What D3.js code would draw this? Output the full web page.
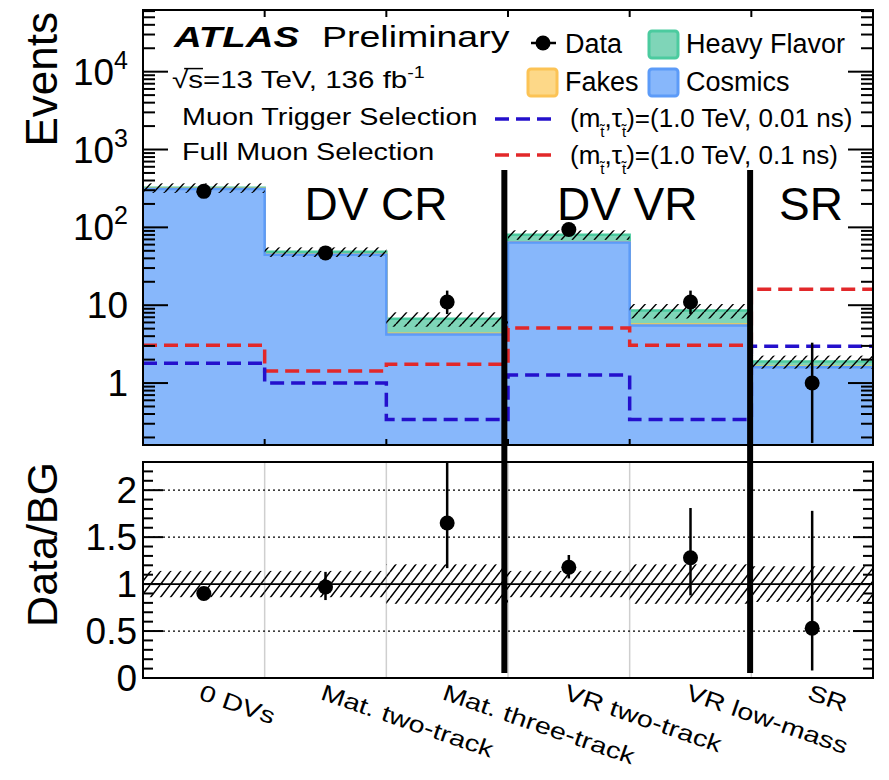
<!DOCTYPE html>
<html><head><meta charset="utf-8">
<script src="https://cdn.jsdelivr.net/npm/d3@7"></script>
<style>
body{margin:0;background:#fff}
svg{display:block}
text{font-family:"Liberation Sans",Arial,Helvetica,sans-serif;fill:#000}
</style>
</head><body>
<svg id="c" width="889" height="780"></svg>
<script>
// ---------------- data ----------------
const categories = ["0 DVs","Mat. two-track","Mat. three-track","VR two-track","VR low-mass","SR"];
const cosmics     = [312, 44.5, 4.2, 64, 5.5, 1.6];
const fakes       = [0.4, 0.2, 0.1, 0.3, 0.15, 0.02];
const heavyFlavor = [10, 3.8, 2.4, 16, 2.9, 0.27];
const bgRelUnc    = [0.14, 0.14, 0.21, 0.14, 0.21, 0.19];
const dataCounts  = [290, 47, 11, 94, 11, 1];
const dataErrUp   = [17.5, 7.9, 4.4, 10.2, 4.4, 2.3];
const dataErrDown = [16.5, 6.8, 3.3, 9.2, 3.3, 0.83];
const signal001   = [1.8, 1.0, 0.34, 1.27, 0.34, 2.98];
const signal01    = [3.07, 1.43, 1.75, 5.1, 3.07, 16];
const ratio       = [0.90, 0.97, 1.65, 1.18, 1.28, 0.53];
const ratioLow    = [0.86, 0.83, 1.17, 1.06, 0.88, 0.08];
const ratioHigh   = [0.94, 1.13, 2.6, 1.31, 1.81, 1.78];
const yTickValues = [1, 10, 100, 1000, 10000];
const yTickBase   = ["1", "10", "10", "10", "10"];
const yTickExp    = ["", "", "2", "3", "4"];
const ratioTicks  = [0, 0.5, 1, 1.5, 2];
const ratioTickLabels = ["0", "0.5", "1", "1.5", "2"];
const regionLabels = ["DV CR", "DV VR", "SR"];
const legendLabels = ["Data", "Heavy Flavor", "Fakes", "Cosmics"];

// ---------------- layout ----------------
const L = 143, R = 873, T1 = 10, B1 = 445, T2 = 462, B2 = 678;
const svg = d3.select("#c");
const x = d3.scaleLinear().domain([0, 6]).range([L, R]);
const y = d3.scaleLog().domain([0.16, 6.2e4]).range([B1, T1]);
const yr = d3.scaleLinear().domain([0, 2.3]).range([B2, T2]);

const colCos = "#87b7fb", colCosL = "#5c9bf8";
const colHF = "#7fd5b8", colHFL = "#4ccb9f";
const colFk = "#fdd888", colFkL = "#fcc355";
const colRed = "#e2282a", colBlue = "#2410cc";

const defs = svg.append("defs");
function hatch(id, w, h, sw) {
  const p = defs.append("pattern").attr("id", id).attr("patternUnits", "userSpaceOnUse")
    .attr("width", w).attr("height", h);
  p.append("path").attr("d", `M0,${h} L${w},0 M${-w},${h} L0,0 M${w},${h} L${2*w},0`)
    .attr("stroke", "#000").attr("stroke-width", sw);
}
hatch("hU", 11, 12, 1.5);
hatch("hR", 10, 13, 1.5);
defs.append("clipPath").attr("id", "cpU").append("rect").attr("x", L).attr("y", T1).attr("width", R - L).attr("height", B1 - T1);
defs.append("clipPath").attr("id", "cpR").append("rect").attr("x", L).attr("y", T2).attr("width", R - L).attr("height", B2 - T2);

const idx = d3.range(categories.length);
const total = idx.map(i => cosmics[i] + fakes[i] + heavyFlavor[i]);
const cosFk = idx.map(i => cosmics[i] + fakes[i]);
const steps = v => v.map((d, i) => [i, d]).concat([[v.length, v[v.length - 1]]]);
const area = d3.area().x(d => x(d[0])).y0(B1).y1(d => y(d[1])).curve(d3.curveStepAfter);
const line = d3.line().x(d => x(d[0])).y(d => y(d[1])).curve(d3.curveStepAfter);

// ---------------- upper panel ----------------
const up = svg.append("g").attr("clip-path", "url(#cpU)");
[[total, colHF, colHFL], [cosFk, colFk, colFkL], [cosmics, colCos, colCosL]].forEach(([v, f, s]) => {
  up.append("path").attr("d", area(steps(v))).attr("fill", f);
  up.append("path").attr("d", line(steps(v))).attr("fill", "none").attr("stroke", s).attr("stroke-width", 2.5);
});
up.selectAll(".unc").data(idx).join("rect")
  .attr("x", i => x(i)).attr("width", i => x(i + 1) - x(i))
  .attr("y", i => y(total[i] * (1 + bgRelUnc[i])))
  .attr("height", i => y(total[i] * (1 - bgRelUnc[i])) - y(total[i] * (1 + bgRelUnc[i])))
  .attr("fill", "url(#hU)");
[[signal01, colRed], [signal001, colBlue]].forEach(([v, c]) => {
  up.append("path").attr("d", line(steps(v))).attr("fill", "none").attr("stroke", c)
    .attr("stroke-width", 3.5).attr("stroke-dasharray", "14,7");
});
up.selectAll(".eb").data(idx).join("line")
  .attr("x1", i => x(i + 0.5)).attr("x2", i => x(i + 0.5))
  .attr("y1", i => y(dataCounts[i] + dataErrUp[i])).attr("y2", i => y(dataCounts[i] - dataErrDown[i]))
  .attr("stroke", "#000").attr("stroke-width", 2.5);
up.selectAll(".pt").data(idx).join("circle")
  .attr("cx", i => x(i + 0.5)).attr("cy", i => y(dataCounts[i])).attr("r", 7.5).attr("fill", "#000");

// ---------------- ratio panel ----------------
const rp = svg.append("g").attr("clip-path", "url(#cpR)");
rp.selectAll(".vg").data(d3.range(1, 6)).join("line")
  .attr("x1", d => x(d)).attr("x2", d => x(d)).attr("y1", T2).attr("y2", B2)
  .attr("stroke", "#cfcfcf").attr("stroke-width", 1.5);
rp.selectAll(".hg").data([0.5, 1.5, 2]).join("line")
  .attr("x1", L).attr("x2", R).attr("y1", d => yr(d)).attr("y2", d => yr(d))
  .attr("stroke", "#000").attr("stroke-width", 1.2).attr("stroke-dasharray", "2,3");
rp.selectAll(".runc").data(idx).join("rect")
  .attr("x", i => x(i)).attr("width", i => x(i + 1) - x(i))
  .attr("y", i => yr(1 + bgRelUnc[i])).attr("height", i => yr(1 - bgRelUnc[i]) - yr(1 + bgRelUnc[i]))
  .attr("fill", "url(#hR)");
rp.append("line").attr("x1", L).attr("x2", R).attr("y1", yr(1)).attr("y2", yr(1))
  .attr("stroke", "#000").attr("stroke-width", 1.6);
rp.selectAll(".reb").data(idx).join("line")
  .attr("x1", i => x(i + 0.5)).attr("x2", i => x(i + 0.5))
  .attr("y1", i => yr(ratioHigh[i])).attr("y2", i => yr(ratioLow[i]))
  .attr("stroke", "#000").attr("stroke-width", 2.5);
rp.selectAll(".rpt").data(idx).join("circle")
  .attr("cx", i => x(i + 0.5)).attr("cy", i => yr(ratio[i])).attr("r", 7.5).attr("fill", "#000");

// region dividers
[2.97, 4.99].forEach(v => {
  svg.append("line").attr("x1", x(v)).attr("x2", x(v)).attr("y1", 170).attr("y2", 673)
    .attr("stroke", "#000").attr("stroke-width", 6);
});

// ---------------- frames & ticks ----------------
const ax = svg.append("g").attr("stroke", "#000").attr("fill", "none");
ax.append("rect").attr("x", L).attr("y", T1).attr("width", R - L).attr("height", B1 - T1).attr("stroke-width", 2);
ax.append("rect").attr("x", L).attr("y", T2).attr("width", R - L).attr("height", B2 - T2).attr("stroke-width", 2);
function tick(x1, y1, x2, y2, w) { ax.append("line").attr("x1", x1).attr("y1", y1).attr("x2", x2).attr("y2", y2).attr("stroke-width", w || 2); }
for (let d = -1; d <= 4; d++) {
  for (let k = 1; k <= 9; k++) {
    const v = k * Math.pow(10, d);
    if (v < y.domain()[0] || v > y.domain()[1]) continue;
    const len = k === 1 ? 25 : 12;
    tick(L, y(v), L + len, y(v));
    tick(R, y(v), R - len, y(v));
  }
}
d3.range(1, 6).forEach(b => { tick(x(b), B1, x(b), B1 - 6); tick(x(b), T1, x(b), T1 + 7); });
for (let v = 0; v <= 2.3001; v += 0.1) {
  const major = Math.abs(v * 2 - Math.round(v * 2)) < 1e-6;
  const len = major ? 20 : 10;
  tick(L, yr(v), L + len, yr(v));
  tick(R, yr(v), R - len, yr(v));
}

// ---------------- axis labels ----------------
yTickValues.forEach((v, i) => {
  const t = svg.append("text").attr("x", 128).attr("y", y(v) + 13).attr("text-anchor", "end").style("font-size", "37px");
  t.append("tspan").text(yTickBase[i]);
  if (yTickExp[i]) t.append("tspan").attr("dy", -16).style("font-size", "25px").text(yTickExp[i]);
});
ratioTicks.forEach((v, i) => {
  svg.append("text").attr("x", 137).attr("y", yr(v) + 13).attr("text-anchor", "end").style("font-size", "37px").text(ratioTickLabels[i]);
});
svg.append("text").attr("transform", "translate(57,12) rotate(-90)").attr("text-anchor", "end")
  .style("font-size", "44px").text("Events");
svg.append("text").attr("transform", "translate(57,462) rotate(-90)").attr("text-anchor", "end")
  .style("font-size", "43px").text("Data/BG");
categories.forEach((c, i) => {
  svg.append("text").attr("transform", `translate(${x(i + 0.5) - 6},699) rotate(19) scale(1.25,1)`)
    .style("font-size", "23px").text(c);
});

// region labels
[[regionLabels[0], 1.915], [regionLabels[1], 3.98], [regionLabels[2], 5.49]].forEach(([t, v]) => {
  svg.append("text").attr("x", x(v)).attr("y", 220).attr("text-anchor", "middle").style("font-size", "46px").text(t);
});

// ---------------- ATLAS block ----------------
svg.append("text").attr("transform", "translate(174,47) scale(1.28,1)")
  .style("font-size", "30px").style("font-weight", "bold").style("font-style", "italic").text("ATLAS");
svg.append("text").attr("transform", "translate(322,47) scale(1.25,1)").style("font-size", "30px").text("Preliminary");
const gs = svg.append("g").attr("transform", "translate(172,88) scale(1.23,1)");
const ts = gs.append("text").style("font-size", "24px");
ts.append("tspan").text("√s=13 TeV, 136 fb");
ts.append("tspan").attr("dy", -10).style("font-size", "16px").text("-1");
try {
  const e0 = ts.node().getExtentOfChar(0), e1 = ts.node().getExtentOfChar(1);
  gs.append("line").attr("x1", e0.x + e0.width * 0.75).attr("x2", e1.x + e1.width)
    .attr("y1", e0.y + 2).attr("y2", e0.y + 2).attr("stroke", "#000").attr("stroke-width", 1.5);
} catch (err) {}
svg.append("text").attr("transform", "translate(182,125) scale(1.25,1)").style("font-size", "23px").text("Muon Trigger Selection");
svg.append("text").attr("transform", "translate(182,160) scale(1.25,1)").style("font-size", "23px").text("Full Muon Selection");

// ---------------- legend ----------------
const lg = svg.append("g");
lg.append("line").attr("x1", 531).attr("x2", 556).attr("y1", 43).attr("y2", 43).attr("stroke", "#000").attr("stroke-width", 2.5);
lg.append("circle").attr("cx", 543).attr("cy", 43).attr("r", 7.5).attr("fill", "#000");
lg.append("text").attr("x", 565).attr("y", 53).style("font-size", "27px").text(legendLabels[0]);
[[649, 31, colHF, colHFL, legendLabels[1]], [528, 69, colFk, colFkL, legendLabels[2]], [649, 69, colCos, colCosL, legendLabels[3]]].forEach(([bx, by, f, s, t]) => {
  lg.append("rect").attr("x", bx).attr("y", by).attr("width", 29).attr("height", 27).attr("rx", 3)
    .attr("fill", f).attr("stroke", s).attr("stroke-width", 3);
  lg.append("text").attr("x", bx + 37).attr("y", by + 22).style("font-size", "27px").text(t);
});
[[119, 127, colBlue, "0.01 ns"], [155, 164, colRed, "0.1 ns"]].forEach(([ly, ty, c, tau]) => {
  lg.append("line").attr("x1", 495).attr("x2", 556).attr("y1", ly).attr("y2", ly)
    .attr("stroke", c).attr("stroke-width", 3.5).attr("stroke-dasharray", "14,7");
  const t = lg.append("text").attr("x", 570).attr("y", ty).style("font-size", "26px");
  t.append("tspan").text("(m");
  t.append("tspan").attr("dy", 10).style("font-size", "15px").text("t\u0303");
  t.append("tspan").attr("dy", -10).text(",τ");
  t.append("tspan").attr("dy", 10).style("font-size", "15px").text("t\u0303");
  t.append("tspan").attr("dy", -10).text(`)=(1.0 TeV, ${tau})`);
});
</script>
</body></html>
